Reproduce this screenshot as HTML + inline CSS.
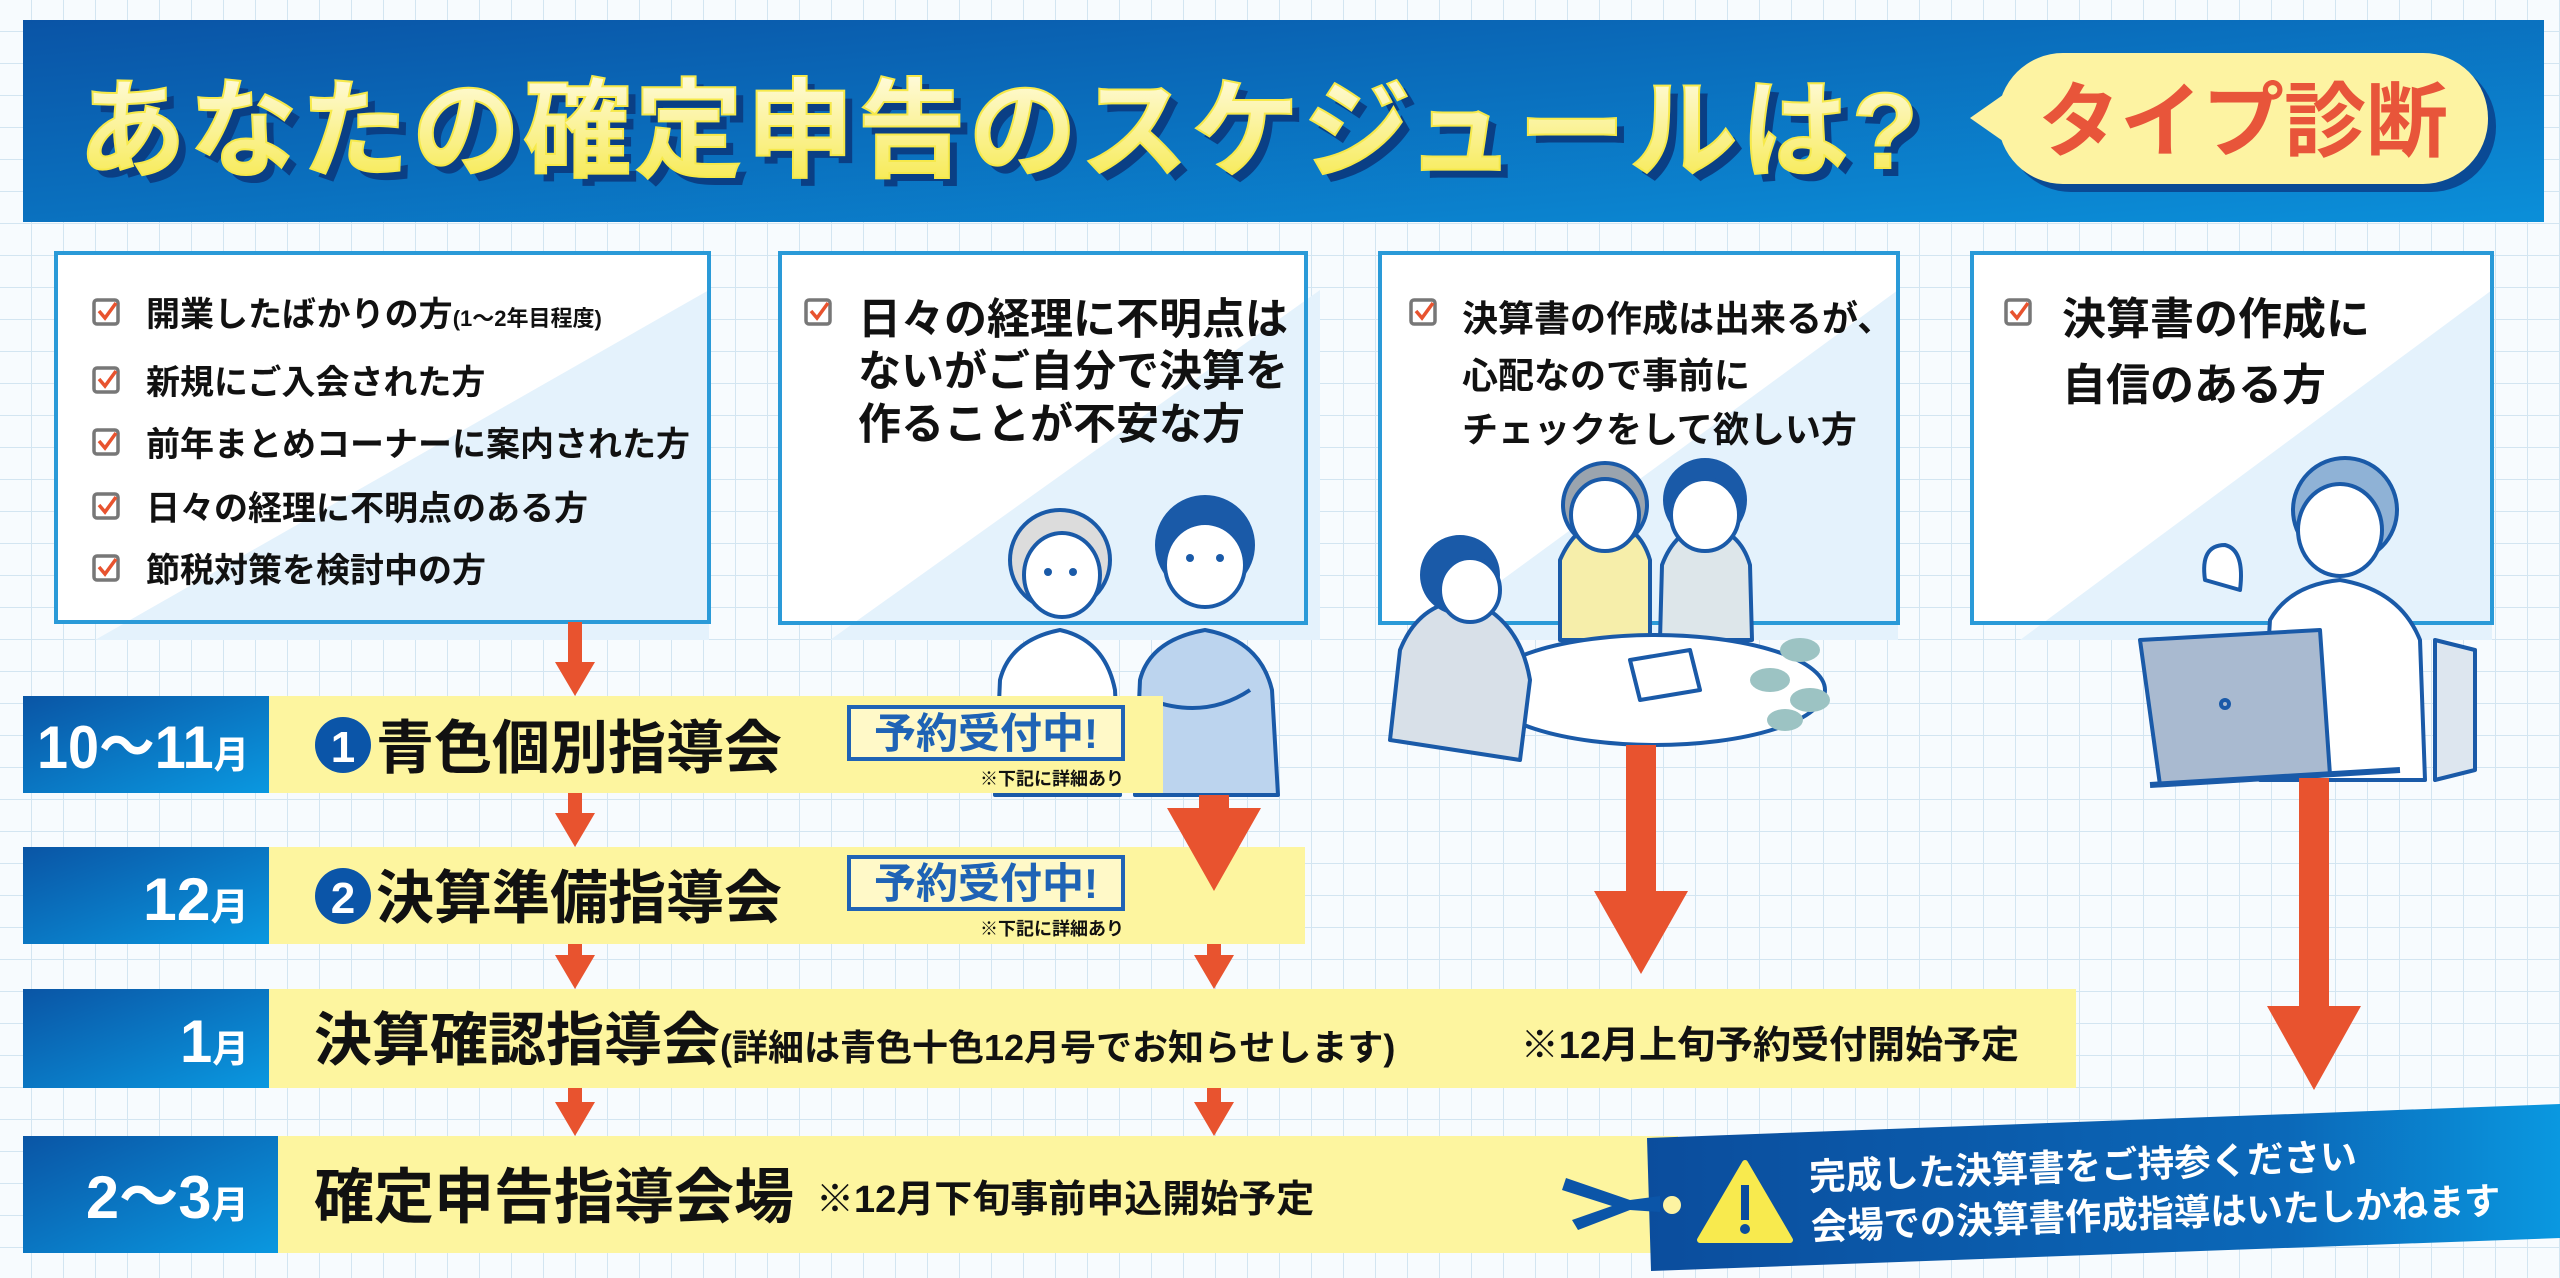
<!DOCTYPE html>
<html><head><meta charset="utf-8"><style>
html,body{margin:0;padding:0;width:2560px;height:1278px;overflow:hidden;background:#f7fbfe}
svg{display:block}
text{font-family:"Liberation Sans","Noto Sans CJK JP",sans-serif;font-weight:700}
</style></head><body>
<svg width="2560" height="1278" viewBox="0 0 2560 1278" xmlns="http://www.w3.org/2000/svg">
<defs>
<pattern id="grid" width="32" height="32" patternUnits="userSpaceOnUse">
<path d="M32 0V32M0 32H32" stroke="#d3e5f1" stroke-width="2" fill="none"/>
</pattern>
<linearGradient id="hdr" x1="0" y1="0" x2="1" y2="1">
<stop offset="0" stop-color="#0a54a6"/><stop offset="1" stop-color="#0b8fd9"/></linearGradient>
<linearGradient id="ttl" x1="0" y1="0" x2="0" y2="1">
<stop offset="0" stop-color="#fffbe0"/><stop offset="1" stop-color="#f6e94a"/></linearGradient>
<linearGradient id="mon" x1="0" y1="0" x2="1" y2="1">
<stop offset="0" stop-color="#0a55a5"/><stop offset="1" stop-color="#0a98e0"/></linearGradient>
<linearGradient id="ban" x1="0" y1="0" x2="1" y2="0">
<stop offset="0" stop-color="#0b4d9d"/><stop offset="0.7" stop-color="#0b68b8"/><stop offset="1" stop-color="#0a98e0"/></linearGradient>
<g id="chk"><rect x="0" y="0" width="24" height="24" rx="3" fill="none" stroke="#777" stroke-width="3.5"/><path d="M5 11 L11 18 L22 3" stroke="#e8532f" stroke-width="3.5" fill="none"/></g>
</defs>
<rect width="2560" height="1278" fill="#f7fbfe"/>
<rect width="2560" height="1278" fill="url(#grid)"/>

<!-- header -->
<rect x="23" y="20" width="2521" height="202" fill="url(#hdr)"/>
<text x="86" y="176" font-size="108" font-weight="900" fill="#0a3f85" textLength="1840">あなたの確定申告のスケジュールは?</text>
<text x="78" y="168" font-size="108" font-weight="900" fill="url(#ttl)" stroke="#f6e94a" stroke-width="2" textLength="1840">あなたの確定申告のスケジュールは?</text>
<rect x="2006" y="61" width="490" height="131" rx="65" fill="#0a4a95"/>
<path d="M1970 118 L2010 90 L2010 146 Z" fill="#fdf3a2"/>
<rect x="1998" y="53" width="490" height="131" rx="65" fill="#fdf3a2"/>
<text x="2243" y="150" font-size="82" font-weight="900" fill="#e8553a" text-anchor="middle">タイプ診断</text>

<!-- boxes -->
<g stroke="#2a9ad8" stroke-width="4">
<rect x="56" y="253" width="653" height="369" fill="#fff"/>
<rect x="780" y="253" width="526" height="370" fill="#fff"/>
<rect x="1380" y="253" width="518" height="370" fill="#fff"/>
<rect x="1972" y="253" width="520" height="370" fill="#fff"/>
</g>
<g fill="#e4f2fc">
<path d="M709 290 L709 640 L95 640 Z"/>
<path d="M1320 290 L1320 640 L830 640 Z"/>
<path d="M1898 290 L1898 640 L1420 640 Z"/>
<path d="M2492 290 L2492 640 L2020 640 Z"/>
</g>
<g stroke="#2a9ad8" stroke-width="4" fill="none">
<rect x="56" y="253" width="653" height="369"/>
<rect x="780" y="253" width="526" height="370"/>
<rect x="1380" y="253" width="518" height="370"/>
<rect x="1972" y="253" width="520" height="370"/>
</g>

<!-- box1 text -->
<use href="#chk" x="94" y="300"/>
<use href="#chk" x="94" y="368"/>
<use href="#chk" x="94" y="430"/>
<use href="#chk" x="94" y="494"/>
<use href="#chk" x="94" y="556"/>
<g font-size="34" fill="#111">
<text x="146" y="326">開業したばかりの方<tspan font-size="22">(1〜2年目程度)</tspan></text>
<text x="146" y="394">新規にご入会された方</text>
<text x="146" y="456">前年まとめコーナーに案内された方</text>
<text x="146" y="520">日々の経理に不明点のある方</text>
<text x="146" y="582">節税対策を検討中の方</text>
</g>
<!-- box2 -->
<use href="#chk" x="806" y="300"/>
<g font-size="43" fill="#111">
<text x="858" y="334">日々の経理に不明点は</text>
<text x="858" y="386">ないがご自分で決算を</text>
<text x="858" y="439">作ることが不安な方</text>
</g>
<!-- box3 -->
<use href="#chk" x="1411" y="300"/>
<g font-size="36" fill="#111">
<text x="1462" y="331">決算書の作成は出来るが、</text>
<text x="1462" y="388">心配なので事前に</text>
<text x="1462" y="442">チェックをして欲しい方</text>
</g>
<!-- box4 -->
<use href="#chk" x="2006" y="300"/>
<g font-size="44" fill="#111">
<text x="2062" y="334">決算書の作成に</text>
<text x="2062" y="400">自信のある方</text>
</g>

<!-- illustrations box2 -->
<g stroke="#1a5aa8" stroke-width="4" stroke-linejoin="round">
<path d="M995 795 L1000 680 Q1010 640 1060 630 Q1105 640 1115 690 L1120 795 Z" fill="#fff"/>
<circle cx="1060" cy="560" r="50" fill="#dcdcdc"/>
<ellipse cx="1062" cy="575" rx="38" ry="42" fill="#fff"/>
<path d="M1135 795 L1140 680 Q1150 640 1205 630 Q1260 640 1272 690 L1278 795 Z" fill="#bcd4ee"/>
<circle cx="1205" cy="545" r="48" fill="#1a5aa8"/>
<ellipse cx="1205" cy="565" rx="40" ry="42" fill="#fff"/>
<path d="M1150 700 Q1205 720 1250 690" fill="none"/>
</g>
<g fill="#1a5aa8"><circle cx="1048" cy="572" r="4"/><circle cx="1073" cy="572" r="4"/><circle cx="1190" cy="558" r="4"/><circle cx="1220" cy="558" r="4"/></g>

<!-- illustrations box3 -->
<g stroke="#1a5aa8" stroke-width="4" stroke-linejoin="round">
<path d="M1560 640 L1560 560 Q1575 525 1605 520 Q1640 525 1650 560 L1650 640 Z" fill="#f6eeaa"/>
<circle cx="1605" cy="505" r="42" fill="#9aa4ae"/>
<ellipse cx="1605" cy="515" rx="34" ry="36" fill="#fff"/>
<path d="M1660 640 L1662 565 Q1675 530 1705 525 Q1740 530 1750 565 L1752 640 Z" fill="#dde6ea"/>
<circle cx="1705" cy="500" r="40" fill="#1a5aa8"/>
<ellipse cx="1705" cy="515" rx="34" ry="36" fill="#fff"/>
<ellipse cx="1655" cy="690" rx="170" ry="55" fill="#fff"/>
<path d="M1390 740 L1400 650 Q1420 600 1470 600 Q1520 620 1530 680 L1520 760 Z" fill="#d8e0e8"/>
<circle cx="1460" cy="575" r="38" fill="#1a5aa8"/>
<ellipse cx="1470" cy="590" rx="30" ry="32" fill="#fff"/>
<path d="M1630 660 L1690 650 L1700 690 L1640 700 Z" fill="#fff"/>
</g>
<g fill="#9cc3c3"><ellipse cx="1800" cy="650" rx="20" ry="12"/><ellipse cx="1770" cy="680" rx="20" ry="12"/><ellipse cx="1810" cy="700" rx="20" ry="12"/><ellipse cx="1785" cy="720" rx="18" ry="11"/></g>

<!-- illustrations box4 -->
<g stroke="#1a5aa8" stroke-width="4" stroke-linejoin="round">
<path d="M2260 780 L2270 620 Q2290 585 2340 580 Q2400 590 2420 640 L2425 780 Z" fill="#fff"/>
<path d="M2435 640 L2475 650 L2475 770 L2435 780 Z" fill="#dde6ef"/>
<circle cx="2345" cy="510" r="52" fill="#8fb2d6"/>
<ellipse cx="2340" cy="530" rx="42" ry="46" fill="#fff"/>
<path d="M2140 640 L2320 630 L2330 775 L2160 785 Z" fill="#a9bad0"/>
<path d="M2150 785 L2400 770" stroke-width="6"/>
<circle cx="2225" cy="704" r="4" fill="none"/>
<path d="M2205 580 Q2200 545 2225 545 Q2245 550 2240 590 Z" fill="#fff"/>
</g>

<!-- timeline rows -->
<rect x="269" y="696" width="894" height="97" fill="#fdf59f"/>
<rect x="269" y="847" width="1036" height="97" fill="#fdf59f"/>
<rect x="269" y="989" width="1807" height="99" fill="#fdf59f"/>
<rect x="278" y="1136" width="1400" height="117" fill="#fdf59f"/>
<rect x="23" y="696" width="246" height="97" fill="url(#mon)"/>
<rect x="23" y="847" width="246" height="97" fill="url(#mon)"/>
<rect x="23" y="989" width="246" height="99" fill="url(#mon)"/>
<rect x="23" y="1136" width="255" height="117" fill="url(#mon)"/>
<g fill="#fff" font-weight="400">
<text x="37" y="768" font-size="60" textLength="212" lengthAdjust="spacingAndGlyphs">10〜11<tspan font-size="38">月</tspan></text>
<text x="143" y="920" font-size="60" textLength="106" lengthAdjust="spacingAndGlyphs">12<tspan font-size="38">月</tspan></text>
<text x="180" y="1062" font-size="60" textLength="69" lengthAdjust="spacingAndGlyphs">1<tspan font-size="38">月</tspan></text>
<text x="86" y="1218" font-size="60" textLength="163" lengthAdjust="spacingAndGlyphs">2〜3<tspan font-size="38">月</tspan></text>
</g>

<!-- arrows -->
<g fill="#e8532f">
<path d="M568 622 H582 V662 H595 L575 696 L555 662 H568 Z"/>
<path d="M568 793 H582 V813 H595 L575 847 L555 813 H568 Z"/>
<path d="M568 944 H582 V955 H595 L575 989 L555 955 H568 Z"/>
<path d="M568 1088 H582 V1102 H595 L575 1136 L555 1102 H568 Z"/>
<path d="M1199 795 H1229 V808 H1261 L1214 891 L1167 808 H1199 Z"/>
<path d="M1207 944 H1221 V955 H1234 L1214 989 L1194 955 H1207 Z"/>
<path d="M1207 1088 H1221 V1102 H1234 L1214 1136 L1194 1102 H1207 Z"/>
<path d="M1626 745 H1656 V891 H1688 L1641 974 L1594 891 H1626 Z"/>
<path d="M2299 778 H2329 V1006 H2361 L2314 1090 L2267 1006 H2299 Z"/>
</g>

<!-- event texts -->
<circle cx="343" cy="745" r="28" fill="#0b55a8"/>
<text x="343" y="762" font-size="44" fill="#fff" text-anchor="middle">1</text>
<text x="376" y="768" font-size="58" font-weight="900" fill="#111">青色個別指導会</text>
<rect x="849" y="707" width="274" height="52" fill="#fff9c8" stroke="#1f63b5" stroke-width="4"/>
<text x="986" y="748" font-size="42" fill="#1f63b5" text-anchor="middle">予約受付中!</text>
<text x="1124" y="785" font-size="18" fill="#111" text-anchor="end">※下記に詳細あり</text>

<circle cx="343" cy="896" r="28" fill="#0b55a8"/>
<text x="343" y="913" font-size="44" fill="#fff" text-anchor="middle">2</text>
<text x="376" y="918" font-size="58" font-weight="900" fill="#111">決算準備指導会</text>
<rect x="849" y="857" width="274" height="52" fill="#fff9c8" stroke="#1f63b5" stroke-width="4"/>
<text x="986" y="898" font-size="42" fill="#1f63b5" text-anchor="middle">予約受付中!</text>
<text x="1124" y="935" font-size="18" fill="#111" text-anchor="end">※下記に詳細あり</text>

<text x="314" y="1060" font-size="58" font-weight="900" fill="#111">決算確認指導会<tspan font-size="36" font-weight="700">(詳細は青色十色12月号でお知らせします)</tspan></text>
<text x="2019" y="1058" font-size="38" fill="#111" text-anchor="end">※12月上旬予約受付開始予定</text>

<text x="314" y="1218" font-size="60" font-weight="900" fill="#111">確定申告指導会場</text>
<text x="816" y="1212" font-size="38" fill="#111">※12月下旬事前申込開始予定</text>

<!-- banner -->
<path d="M1647 1138 L2560 1104 L2560 1238 L1651 1271 Z" fill="url(#ban)"/>
<path d="M1566 1178 L1630 1200 L1660 1196 L1660 1212 L1630 1210 L1578 1230 L1572 1220 L1612 1206 L1562 1190 Z" fill="#0b55a8"/>
<circle cx="1672" cy="1205" r="9" fill="#fdf3a2"/>
<path d="M1745 1163 L1790 1240 L1700 1240 Z" fill="#f8ea4e" stroke="#f8ea4e" stroke-width="6" stroke-linejoin="round"/>
<rect x="1741" y="1185" width="8" height="35" fill="#0b4d9d"/>
<circle cx="1745" cy="1229" r="5" fill="#0b4d9d"/>
<g fill="#fff" font-size="37" transform="rotate(-2.2 1810 1200)">
<text x="1810" y="1190" textLength="548" lengthAdjust="spacingAndGlyphs">完成した決算書をご持参ください</text>
<text x="1810" y="1240" textLength="690" lengthAdjust="spacingAndGlyphs">会場での決算書作成指導はいたしかねます</text>
</g>
</svg>
</body></html>
